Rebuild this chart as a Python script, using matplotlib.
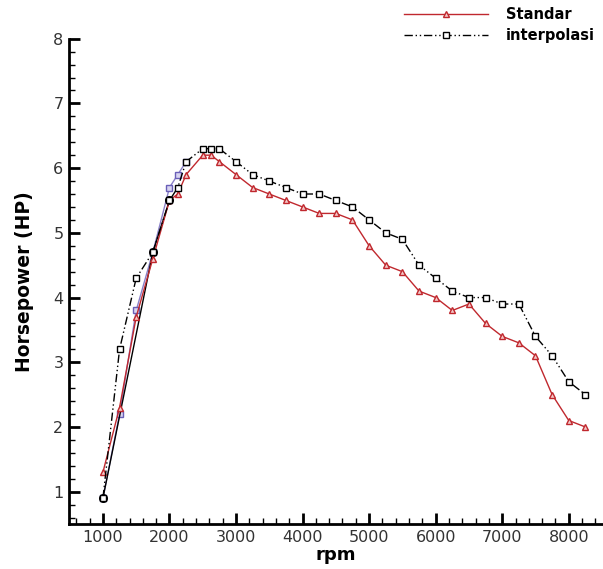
import matplotlib
matplotlib.use("Agg")
import matplotlib.pyplot as plt
from matplotlib.ticker import MultipleLocator

plt.rcParams['font.family'] = ['DejaVu Sans']

rpm = [1000, 1250, 1500, 1750, 2000, 2125, 2250, 2500, 2625, 2750, 3000, 3250,
       3500, 3750, 4000, 4250, 4500, 4750, 5000, 5250, 5500, 5750, 6000, 6250,
       6500, 6750, 7000, 7250, 7500, 7750, 8000, 8250]
standar = [1.3, 2.3, 3.7, 4.6, 5.5, 5.6, 5.9, 6.2, 6.2, 6.1, 5.9, 5.7,
           5.6, 5.5, 5.4, 5.3, 5.3, 5.2, 4.8, 4.5, 4.4, 4.1, 4.0, 3.8,
           3.9, 3.6, 3.4, 3.3, 3.1, 2.5, 2.1, 2.0]
interpolasi = [0.9, 3.2, 4.3, 4.7, 5.5, 5.7, 6.1, 6.3, 6.3, 6.3, 6.1, 5.9,
               5.8, 5.7, 5.6, 5.6, 5.5, 5.4, 5.2, 5.0, 4.9, 4.5, 4.3, 4.1,
               4.0, 4.0, 3.9, 3.9, 3.4, 3.1, 2.7, 2.5]
# extra overlapping low-rpm series (no legend)
rpm_extra = [1000, 1250, 1500, 1750, 2000, 2125, 2250]
extra = [0.9, 2.2, 3.8, 4.7, 5.7, 5.9, 6.1]
rpm_circ = [1000, 1750, 2000]
circ = [0.9, 4.7, 5.5]

fig = plt.figure(figsize=(6.03, 5.69), dpi=100)
ax = fig.add_axes([0.1144, 0.079, 0.884, 0.853])

ax.plot(rpm_extra, extra, color='#8a80c8', lw=1.0, marker='s', ms=5,
        mfc='#d8d4f0', mec='#6a5fb8', zorder=2)
ax.plot(rpm_circ, circ, color='black', lw=1.0, marker='o', ms=5,
        mfc='none', mec='black', mew=1.5, zorder=2)
l1, = ax.plot(rpm, standar, color='#c0282e', lw=1.0, marker='^', ms=5,
              mfc='#f4c8c8', mec='#c0282e', mew=1.0, label='Standar', zorder=3)
l2, = ax.plot(rpm, interpolasi, color='black', lw=1.0, dashes=[6, 2, 1, 2, 1, 2],
              marker='s', ms=5, mfc='white', mec='black', mew=1.0,
              label='interpolasi', zorder=3)

ax.set_xlim(490, 8500)
ax.set_ylim(0.5, 8)
ax.xaxis.set_major_locator(MultipleLocator(1000))
ax.xaxis.set_minor_locator(MultipleLocator(200))
ax.yaxis.set_major_locator(MultipleLocator(1))
ax.yaxis.set_minor_locator(MultipleLocator(0.2))
ax.set_yticks([1, 2, 3, 4, 5, 6, 7, 8])

for s in ['top', 'right']:
    ax.spines[s].set_visible(False)
for s in ['left', 'bottom']:
    ax.spines[s].set_linewidth(2)

ax.tick_params(which='major', direction='in', length=8, width=2,
               labelsize=11.5, labelcolor='#333333', pad=4)
ax.tick_params(which='minor', direction='in', length=4, width=1)

ax.set_xlabel('rpm', fontsize=13, fontweight='bold', labelpad=1)
ax.set_ylabel('Horsepower (HP)', fontsize=13.5, fontweight='bold', labelpad=14)

leg = ax.legend(handles=[l1, l2], loc='upper right', bbox_to_anchor=(1.008, 1.01),
                bbox_transform=fig.transFigure, frameon=False, handlelength=5.8,
                handletextpad=1.2, labelspacing=0.4, markerscale=0.8,
                prop={'weight': 'bold', 'size': 10.5})

fig.savefig('out.png', dpi=100, facecolor='white')
